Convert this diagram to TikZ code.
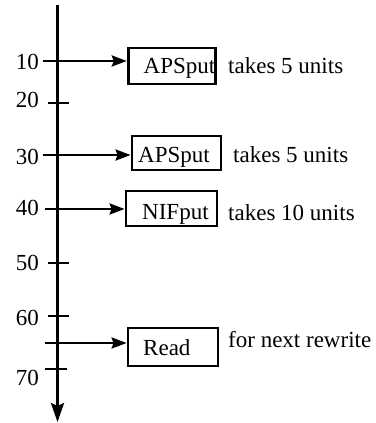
\documentclass[tikz,border=0pt]{standalone}
\usepackage{fontspec}
\setmainfont{Liberation Serif}
\usetikzlibrary{arrows.meta}
\begin{document}
\begin{tikzpicture}[x=1pt,y=-1pt,
  txt/.style={font=\fontsize{23}{27}\selectfont, inner sep=0pt},
  box/.style={draw, line width=2.8pt, inner sep=0pt},
  axisline/.style={line width=3pt, -{Stealth[length=19pt,width=13pt,inset=3pt]}},
  harrow/.style={line width=2.5pt, -{Stealth[length=15pt,width=11pt,inset=2pt]}},
  tickline/.style={line width=2.5pt}]
\useasboundingbox (0,0) rectangle (375,423);
% axis
\coordinate (top) at (57.5,5);
\coordinate (bot) at (57.5,422);
\draw[axisline] (top) -- (bot);
% tick labels
\node[txt, anchor=east] (l10) at (39,62) {10};
\node[txt, anchor=east] (l20) at (39,100) {20};
\node[txt, anchor=east] (l30) at (39,157) {30};
\node[txt, anchor=east] (l40) at (39,208) {40};
\node[txt, anchor=east] (l50) at (39,263) {50};
\node[txt, anchor=east] (l60) at (39,318) {60};
\node[txt, anchor=east] (l70) at (39,378) {70};
% plain ticks
\coordinate (t20a) at (48,103); \coordinate (t20b) at (69,103);
\coordinate (t50a) at (48,263); \coordinate (t50b) at (69,263);
\coordinate (t60a) at (48,316); \coordinate (t60b) at (69,316);
\coordinate (t70a) at (45,369); \coordinate (t70b) at (67,369);
\draw[tickline] (t20a) -- (t20b);
\draw[tickline] (t50a) -- (t50b);
\draw[tickline] (t60a) -- (t60b);
\draw[tickline] (t70a) -- (t70b);
% box texts (drawn before the boxes)
\node[txt, anchor=base west] (x1) at (143.5,73) {APSput};
\node[txt, anchor=base west] (x2) at (138,162) {APSput};
\node[txt, anchor=base west] (x3) at (142,219) {NIFput};
\node[txt, anchor=base west] (x4) at (143,355) {Read};
% boxes
\node[box, minimum width=87.6pt, minimum height=36pt] (b1) at (172,66) {};
\node[box, minimum width=89pt, minimum height=34pt] (b2) at (176.5,153) {};
\node[box, minimum width=91pt, minimum height=35pt] (b3) at (171.5,208.5) {};
\node[box, minimum width=90pt, minimum height=38pt] (b4) at (173,347) {};
% arrows
\coordinate (s1) at (43,61);
\coordinate (s2) at (43,155);
\coordinate (s3) at (45,209);
\coordinate (s4) at (45,343);
\draw[harrow] (s1) -- (s1 -| b1.west);
\draw[harrow] (s2) -- (s2 -| b2.west);
\draw[harrow] (s3) -- (s3 -| b3.west);
\draw[harrow] (s4) -- (s4 -| b4.west);
% side notes
\node[txt, anchor=base west] (n1) at (228,73) {takes 5 units};
\node[txt, anchor=base west] (n2) at (233,162) {takes 5 units};
\node[txt, anchor=base west] (n3) at (228,220) {takes 10 units};
\node[txt, anchor=base west] (n4) at (228,347) {for next rewrite};
\end{tikzpicture}
\end{document}
